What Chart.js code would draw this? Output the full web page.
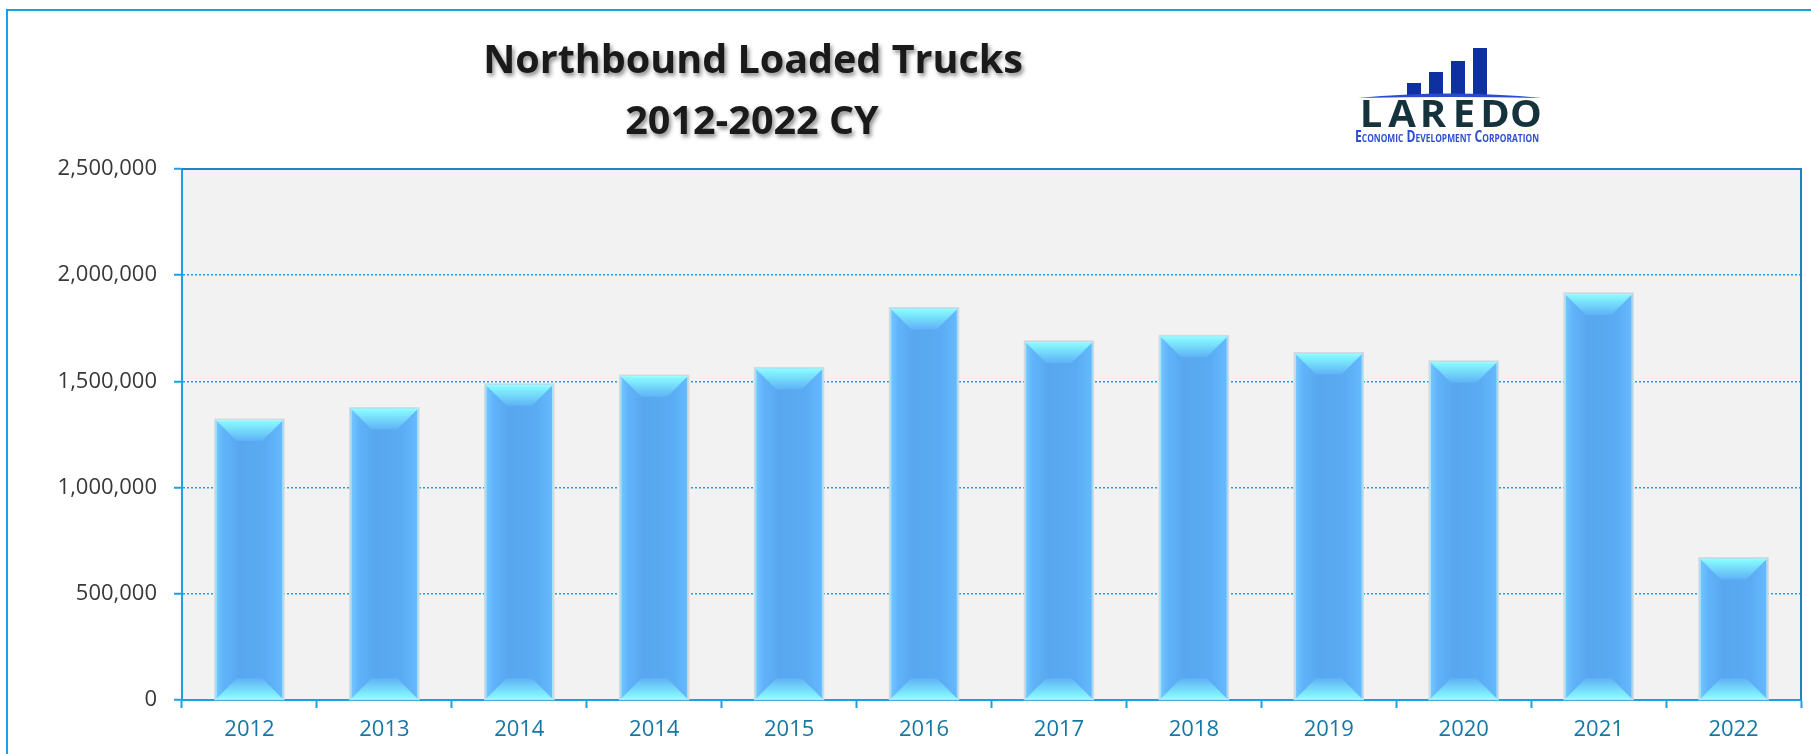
<!DOCTYPE html>
<html lang="en">
<head>
    <meta charset="UTF-8">
    <title>Northbound Loaded Trucks</title>
    <script src="https://cdn.jsdelivr.net/npm/chart.js"></script>
    <style>
        html, body { margin: 0; padding: 0; background: #ffffff; }
        #wrap { width: 1811px; height: 754px; }
    </style>
</head>
<body>
<div id="wrap">
    <canvas id="myChart" width="1811" height="754"></canvas>
</div>

<script>
    // chart data
    const years = ['2012', '2013', '2014', '2014', '2015', '2016', '2017', '2018', '2019', '2020', '2021', '2022'];
    const trucks = [1318000, 1372000, 1484000, 1525000, 1561000, 1843000, 1686000, 1712000, 1631000, 1592000, 1912000, 666000];
    const yMax = 2500000;
    const yStep = 500000;
    const titleLines = ['Northbound Loaded Trucks', '2012-2022 CY'];
    const logoWord = 'LAREDO';
    const logoTag = 'Economic Development Corporation';

    const blue = '#1ba1e2';

    // grey plot background + frame around the whole picture
    const backdrop = {
        id: 'backdrop',
        beforeDraw(chart) {
            const { ctx, chartArea: a } = chart;
            ctx.save();
            ctx.fillStyle = '#f2f2f2';
            ctx.fillRect(a.left, a.top, a.right - a.left, a.bottom - a.top);
            ctx.strokeStyle = blue;
            ctx.lineWidth = 2;
            ctx.strokeRect(7, 10, 1900, 900);
            ctx.restore();
        },
        afterDraw(chart) {
            const { ctx, chartArea: a } = chart;
            ctx.save();
            ctx.strokeStyle = '#1b86bd';
            ctx.lineWidth = 2;
            ctx.beginPath();
            ctx.moveTo(a.left, a.top);
            ctx.lineTo(a.right, a.top);
            ctx.lineTo(a.right, a.bottom);
            ctx.stroke();
            ctx.restore();
        }
    };

    // glassy bevel on each bar, uses the bar elements chart.js has laid out
    const bevel = {
        id: 'bevel',
        afterDatasetsDraw(chart) {
            const ctx = chart.ctx;
            chart.getDatasetMeta(0).data.forEach(bar => {
                const { x, y, base, width } = bar.getProps(['x', 'y', 'base', 'width'], true);
                const l = x - width / 2, r = x + width / 2;
                const d = Math.min(21, (base - y) / 2);
                ctx.save();

                // soft outline
                ctx.strokeStyle = '#d5d9dc';
                ctx.lineWidth = 2;
                ctx.strokeRect(l - 0.5, y - 0.5, width + 1, base - y + 0.5);

                // body
                const g = ctx.createLinearGradient(l, 0, r, 0);
                g.addColorStop(0, '#74c8ff');
                g.addColorStop(0.12, '#60b3fa');
                g.addColorStop(0.35, '#58a7ee');
                g.addColorStop(0.75, '#5aabf3');
                g.addColorStop(1, '#66baff');
                ctx.fillStyle = g;
                ctx.fillRect(l, y, width, base - y);

                // top bevel
                const gt = ctx.createLinearGradient(0, y, 0, y + d);
                gt.addColorStop(0, '#8affff');
                gt.addColorStop(1, '#5fb2f6');
                ctx.fillStyle = gt;
                ctx.beginPath();
                ctx.moveTo(l, y);
                ctx.lineTo(r, y);
                ctx.lineTo(r - d, y + d);
                ctx.lineTo(l + d, y + d);
                ctx.closePath();
                ctx.fill();

                // bottom bevel
                const gb = ctx.createLinearGradient(0, base, 0, base - d);
                gb.addColorStop(0, '#8affff');
                gb.addColorStop(1, '#5fb2f6');
                ctx.fillStyle = gb;
                ctx.beginPath();
                ctx.moveTo(l, base);
                ctx.lineTo(r, base);
                ctx.lineTo(r - d, base - d);
                ctx.lineTo(l + d, base - d);
                ctx.closePath();
                ctx.fill();

                // thin light edge
                ctx.strokeStyle = 'rgba(180,240,255,0.8)';
                ctx.lineWidth = 1;
                ctx.strokeRect(l + 0.5, y + 0.5, width - 1, base - y - 1);
                ctx.restore();
            });
        }
    };

    // titles with a shadow, and the logo in the corner
    const header = {
        id: 'header',
        afterDraw(chart) {
            const ctx = chart.ctx;
            ctx.save();
            ctx.textAlign = 'center';
            ctx.textBaseline = 'middle';
            ctx.fillStyle = '#1a1a1a';
            ctx.shadowColor = 'rgba(0,0,0,0.45)';
            ctx.shadowOffsetX = 2;
            ctx.shadowOffsetY = 3;
            ctx.shadowBlur = 4;
            ctx.font = 'bold 39.5px "Open Sans"';
            ctx.fillText(titleLines[0], 753, 62);
            ctx.fillText(titleLines[1], 752, 123);
            ctx.restore();

            // logo bars
            ctx.save();
            ctx.fillStyle = '#0f30a0';
            [[1407, 83], [1429, 72], [1451, 61], [1473, 48]].forEach(b => {
                ctx.fillRect(b[0], b[1], 14, 96 - b[1]);
            });
            // swoosh
            ctx.fillStyle = '#2a4bd0';
            ctx.beginPath();
            ctx.moveTo(1358, 98);
            ctx.quadraticCurveTo(1450, 89, 1542, 98);
            ctx.quadraticCurveTo(1450, 96, 1358, 98);
            ctx.fill();

            // word mark
            ctx.fillStyle = '#16333d';
            ctx.font = 'bold 37px "Open Sans"';
            ctx.textAlign = 'center';
            ctx.textBaseline = 'alphabetic';
            logoWord.split('').forEach((ch, i) => {
                ctx.save();
                ctx.translate(1371 + i * 31, 127);
                ctx.scale(1.08, 1);
                ctx.fillText(ch, 0, 0);
                ctx.restore();
            });

            ctx.fillStyle = '#2d4fd0';
            ctx.font = 'small-caps bold 16px "Open Sans"';
            const w = ctx.measureText(logoTag).width;
            ctx.translate(1447, 142);
            ctx.scale(184 / w, 1);
            ctx.fillText(logoTag, 0, 0);
            ctx.restore();
        }
    };

    const myChart = document.getElementById('myChart');
    new Chart(myChart, {
        type: 'bar',
        data: {
            labels: years,
            datasets: [{
                label: 'Northbound Loaded Trucks',
                data: trucks,
                backgroundColor: '#5aaaf2',
                borderWidth: 0,
                barPercentage: 0.5,
                categoryPercentage: 1
            }]
        },
        options: {
            responsive: false,
            animation: false,
            layout: { padding: { left: 10, right: 10, top: 169, bottom: 0 } },
            plugins: {
                legend: { display: false },
                title: { display: false },
                tooltip: { enabled: false }
            },
            scales: {
                x: {
                    afterFit: s => { s.height = 54; },
                    grid: {
                        offset: true,
                        drawOnChartArea: false,
                        drawTicks: true,
                        tickLength: 8,
                        tickColor: blue,
                        tickWidth: 2
                    },
                    border: { color: blue, width: 2 },
                    ticks: {
                        color: '#1577a6',
                        padding: 9,
                        font: { family: '"Open Sans"', size: 22 }
                    }
                },
                y: {
                    min: 0,
                    max: yMax,
                    afterFit: s => { s.width = 172; },
                    grid: {
                        color: blue,
                        lineWidth: 1.5,
                        tickLength: 8,
                        tickColor: blue,
                        tickWidth: 2,
                        tickBorderDash: []
                    },
                    border: { color: blue, width: 2, dash: [2, 2] },
                    ticks: {
                        stepSize: yStep,
                        color: '#383838',
                        padding: 17,
                        font: { family: '"Open Sans"', size: 22 },
                        callback: v => v.toLocaleString('en-US')
                    }
                }
            }
        },
        plugins: [backdrop, bevel, header]
    });
</script>
</body>
</html>
